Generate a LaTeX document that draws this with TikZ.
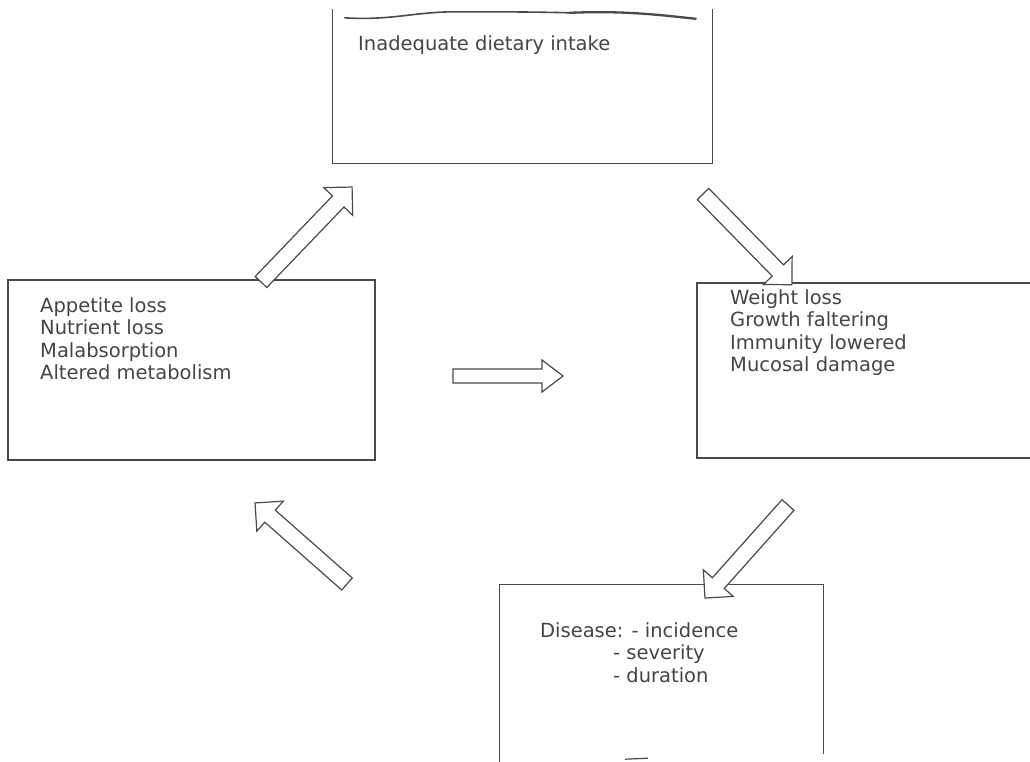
\documentclass[tikz,border=0pt]{standalone}
\usepackage{fontspec}
\setmainfont{DejaVu Sans}
\definecolor{inkline}{HTML}{4A4A4A}
\definecolor{inktext}{HTML}{454545}
\tikzset{
  boxframe/.style={draw=inkline, line width=1.2pt, inner sep=0pt},
  sideline/.style={draw=inkline, line width=1.2pt},
  txt/.style={anchor=base west, inner sep=0pt, text=inktext, font=\fontsize{19.5}{22.5}\selectfont},
  arrline/.style={draw=inkline, line width=1.2pt, line join=miter, fill=white},
  pics/blockarr/.style n args={4}{code={%
    \draw[arrline] (0,-#2) -- (#1-#4,-#2) -- (#1-#4,-#3) -- (#1,0) -- (#1-#4,#3) -- (#1-#4,#2) -- (0,#2) -- cycle;}}
}
\begin{document}
\begin{tikzpicture}[x=1pt,y=-1pt]
\clip (0,0) rectangle (1030,761);
\fill[white] (0,0) rectangle (1030,761);

% top box (open top, with hand-drawn top stroke)
\node[inner sep=0pt, minimum width=379pt, minimum height=154pt] (T) at (522.5,86) {};
\draw[sideline] (T.north west) -- (T.south west) -- (T.south east) -- (T.north east);
\draw[draw=inkline, line width=1.6pt, line cap=round]
  ([xshift=12pt,yshift=-9pt]T.north west) .. controls +(45,3) and +(-40,0) .. ([xshift=122pt,yshift=-3pt]T.north west)
  .. controls +(45,0) and +(-40,-1) .. ([xshift=237pt,yshift=-4pt]T.north west);
\draw[draw=inkline, line width=2.3pt, line cap=round]
  ([xshift=237pt,yshift=-4pt]T.north west) .. controls +(50,-2) and +(-45,-5) .. ([xshift=363pt,yshift=-10pt]T.north west);
\node[txt] (t1) at (358,50) {Inadequate dietary intake};

% left box
\node[boxframe, minimum width=367pt, minimum height=180pt] (L) at (191.5,370) {};
\node[txt] (l1) at (40,312) {Appetite loss};
\node[txt] (l2) at (40,334.5) {Nutrient loss};
\node[txt] (l3) at (40,357) {Malabsorption};
\node[txt] (l4) at (40,379.5) {Altered metabolism};

% right box (runs off the right edge)
\node[boxframe, minimum width=360pt, minimum height=175pt] (R) at (877,370.5) {};
\node[txt] (r1) at (730,304) {Weight loss};
\node[txt] (r2) at (730,326.5) {Growth faltering};
\node[txt] (r3) at (730,349) {Immunity lowered};
\node[txt] (r4) at (730,371.5) {Mucosal damage};

% bottom box (runs off the bottom edge)
\node[inner sep=0pt, minimum width=323pt, minimum height=180pt] (B) at (661.5,675) {};
\draw[sideline] (B.south west) -- (B.north west) -- (B.north east) -- ([yshift=11pt]B.south east);
\draw[sideline] ([xshift=125pt,yshift=6pt]B.south west) -- ([xshift=148pt,yshift=7pt]B.south west);
\node[txt] (b1) at (540,637) {Disease: - incidence};
\node[txt] (b2) at (613,659.5) {- severity};
\node[txt] (b3) at (613,682) {- duration};

% block arrows
\pic[rotate=46.2] (a1) at (261,282) {blockarr={131.6}{8}{20}{20}};
\pic[rotate=-45.6] (a2) at (703,194) {blockarr={127}{8}{20}{20}};
\pic (a3) at (453,376) {blockarr={110}{7}{16}{21}};
\pic[rotate=-131.75] (a4) at (788,505) {blockarr={124.7}{8}{20}{20}};
\pic[rotate=138.6] (a5) at (347,584) {blockarr={122.6}{8}{20}{20}};
\end{tikzpicture}
\end{document}
